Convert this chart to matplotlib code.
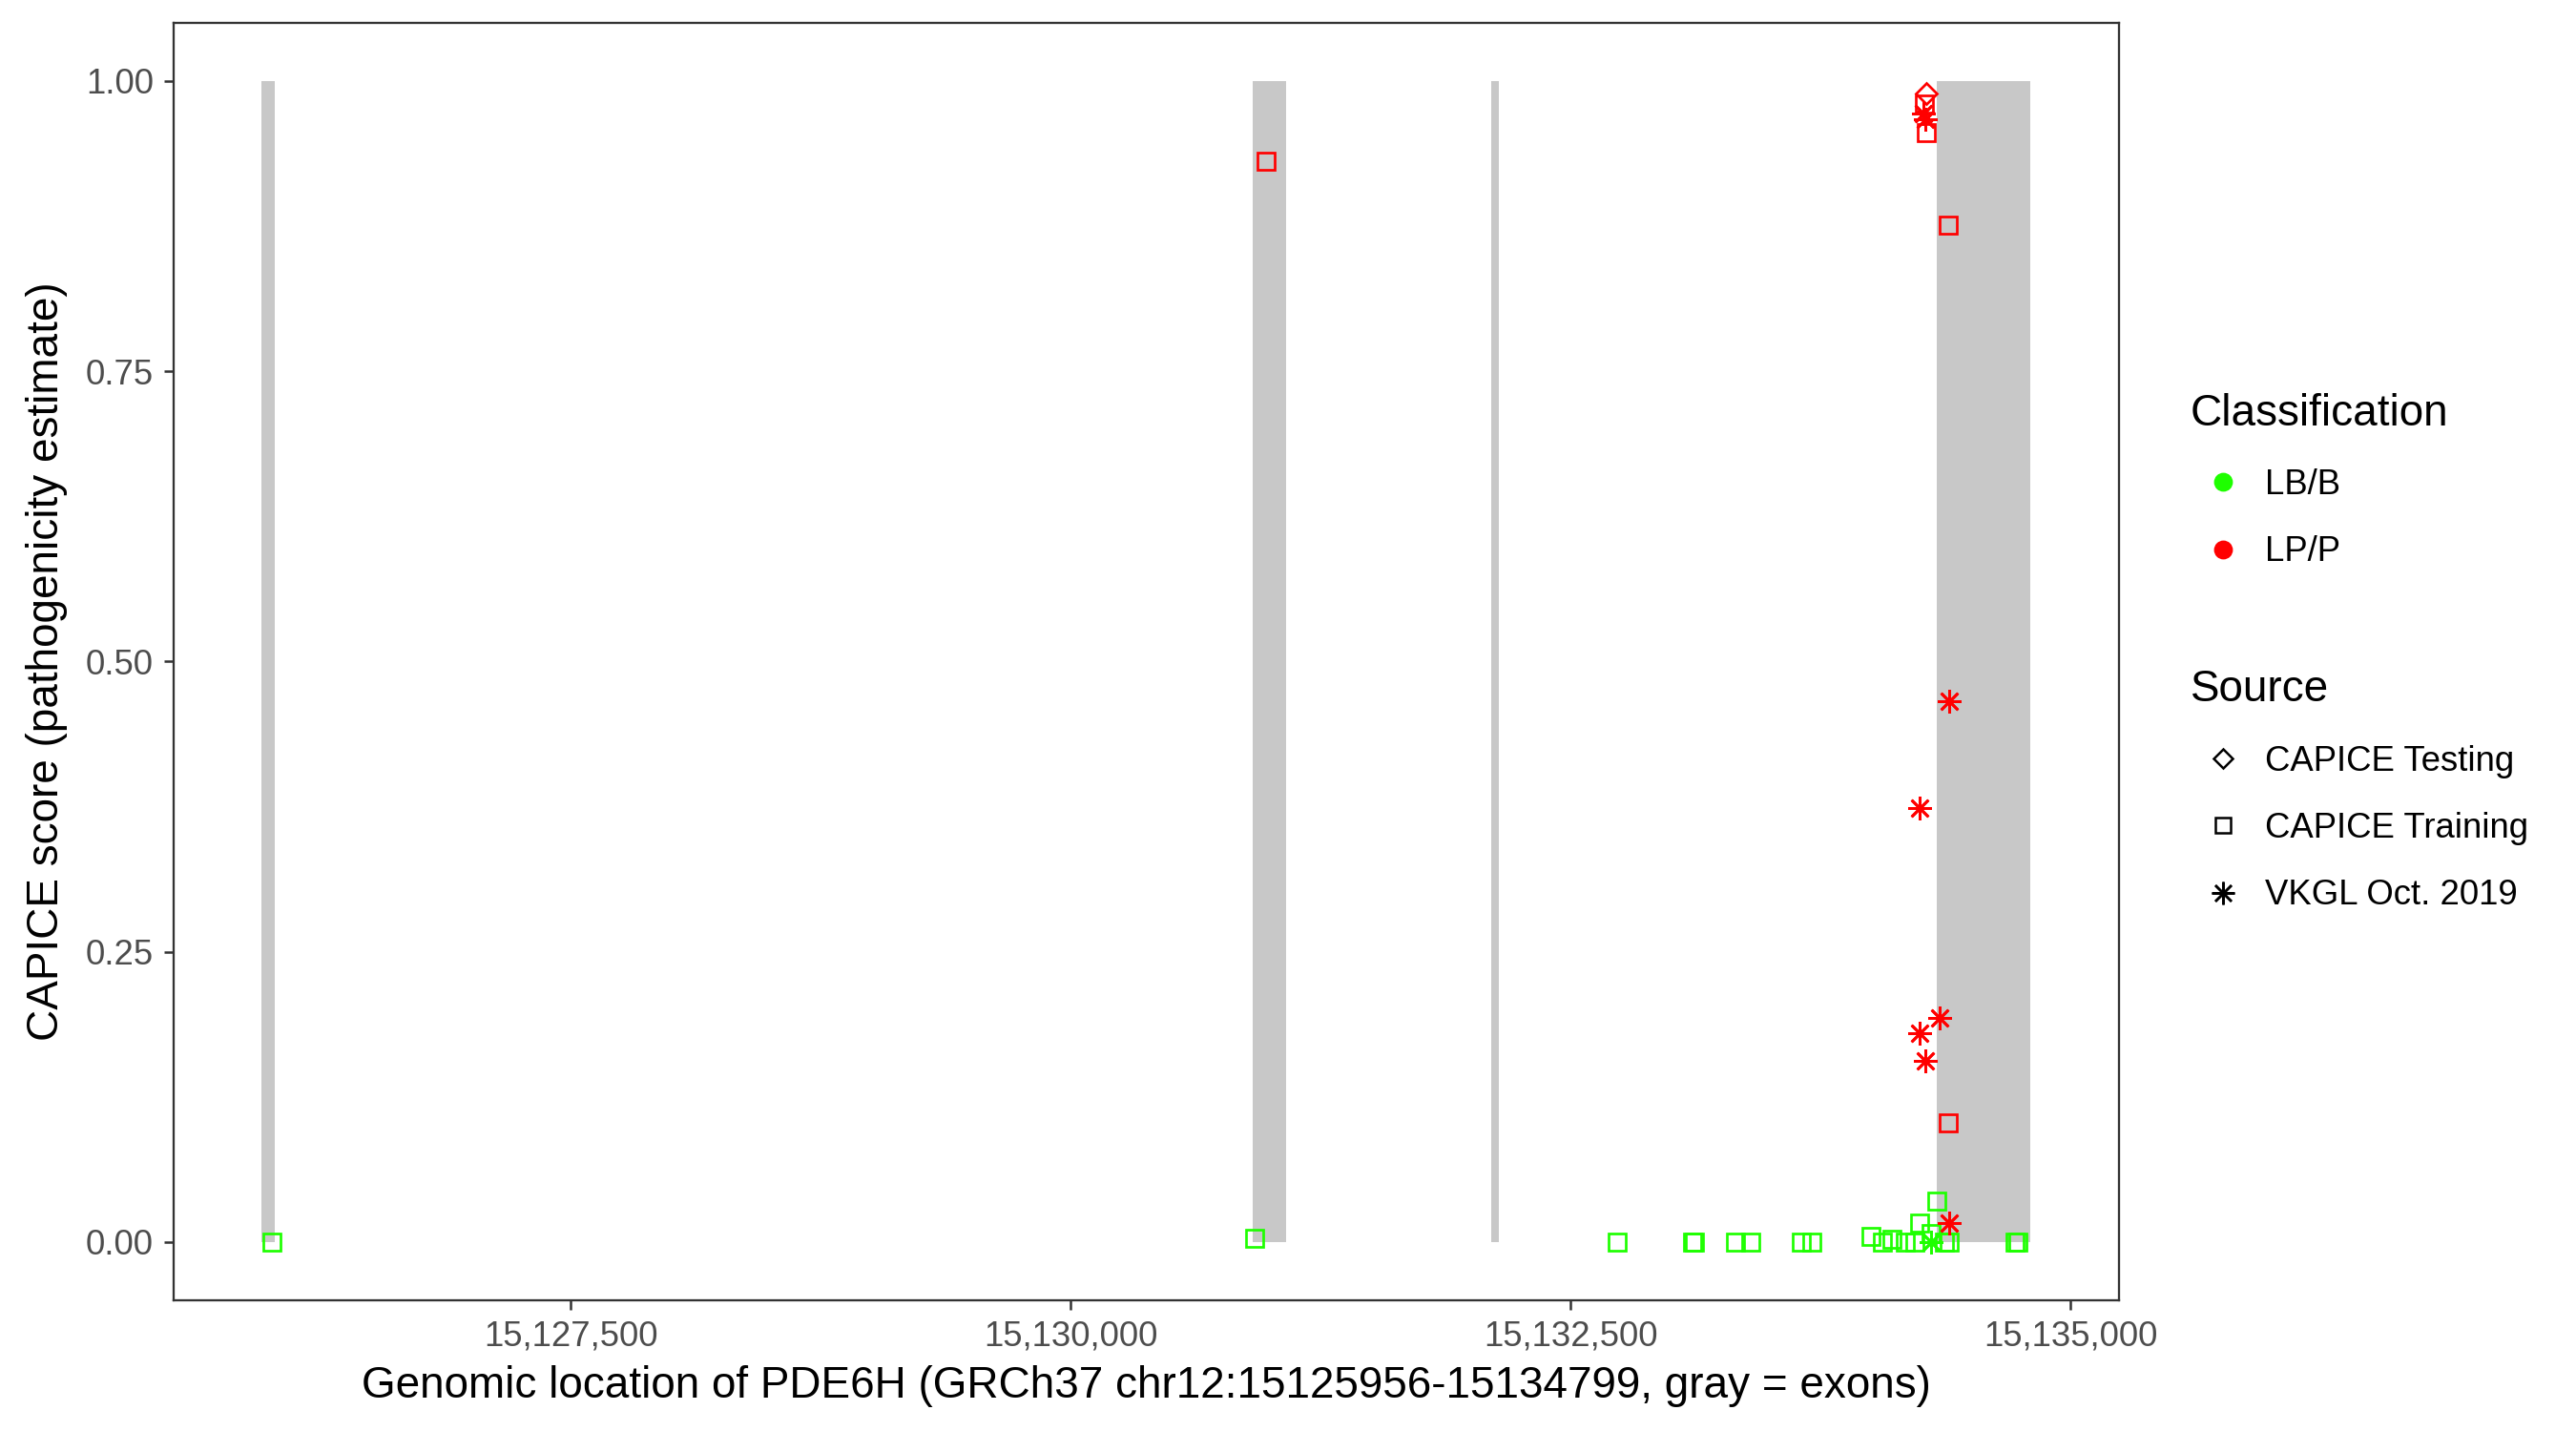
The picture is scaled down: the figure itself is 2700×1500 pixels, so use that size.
import matplotlib
matplotlib.use("Agg")
import matplotlib.pyplot as plt
from matplotlib.lines import Line2D
from matplotlib.ticker import FuncFormatter

plt.rcParams['font.family'] = ['Liberation Sans', 'DejaVu Sans']

# exons of PDE6H (start, end)
exon_start = [15125956, 15130909, 15132105, 15134333]
exon_end = [15126020, 15131080, 15132140, 15134799]

# variants: position, score, classification, source
pos = [15126006, 15130918, 15132735, 15133112, 15133120, 15133323, 15133402,
       15133656, 15133704, 15134004, 15134061, 15134109, 15134172, 15134220,
       15134244, 15134304, 15134332, 15134371, 15134395, 15134720, 15134737,
       15134304,
       15130978, 15134268, 15134281, 15134387, 15134390,
       15134281,
       15134262, 15134275, 15134392, 15134247, 15134344, 15134247, 15134276,
       15134395]
score = [0.0, 0.003, 0.0, 0.0, 0.0, 0.0, 0.0,
         0.0, 0.0, 0.0045, 0.0, 0.002, 0.0, 0.0,
         0.0165, 0.007, 0.0356, 0.0, 0.0, 0.0, 0.0,
         0.0,
         0.931, 0.980, 0.9555, 0.876, 0.1028,
         0.989,
         0.972, 0.967, 0.466, 0.374, 0.193, 0.180, 0.156,
         0.0165]
classif = ['LB/B'] * 22 + ['LP/P'] * 14
source = (['CAPICE Training'] * 21 + ['VKGL Oct. 2019']
          + ['CAPICE Training'] * 5 + ['CAPICE Testing']
          + ['VKGL Oct. 2019'] * 8)

class_names = ['LB/B', 'LP/P']
class_colors = {'LB/B': '#1EFF00', 'LP/P': '#FF0000'}
source_names = ['CAPICE Testing', 'CAPICE Training', 'VKGL Oct. 2019']
source_markers = {'CAPICE Testing': 'D', 'CAPICE Training': 's', 'VKGL Oct. 2019': (8, 2, 0)}
source_sizes = {'CAPICE Testing': 7.5, 'CAPICE Training': 8.5, 'VKGL Oct. 2019': 12}

fig = plt.figure(figsize=(18, 10), dpi=150)
ax = fig.add_axes([0.0673, 0.0915, 0.8225 - 0.0673, 0.984 - 0.0915])

# exons as gray bars
widths = [e - s for s, e in zip(exon_start, exon_end)]
ax.bar(exon_start, [1] * len(exon_start), width=widths, bottom=0, align='edge',
       color='#C8C8C8', linewidth=0, zorder=1)

for src in source_names:
    for cl in class_names:
        xs = [p for p, c, s in zip(pos, classif, source) if c == cl and s == src]
        ys = [v for v, c, s in zip(score, classif, source) if c == cl and s == src]
        if not xs:
            continue
        ax.plot(xs, ys, linestyle='none', marker=source_markers[src],
                markersize=source_sizes[src], markerfacecolor='none',
                markeredgecolor=class_colors[cl], markeredgewidth=1.3, zorder=3)

lo, hi = 15125956, 15134799
pad = (hi - lo) * 0.05
ax.set_xlim(lo - pad, hi + pad)
ax.set_ylim(-0.05, 1.05)
ax.set_xticks([15127500, 15130000, 15132500, 15135000])
ax.set_yticks([0, 0.25, 0.5, 0.75, 1.0])
ax.xaxis.set_major_formatter(FuncFormatter(lambda v, p: f"{int(v):,}"))
ax.yaxis.set_major_formatter(FuncFormatter(lambda v, p: f"{v:.2f}"))
ax.tick_params(axis='both', labelsize=17.5, labelcolor='#4D4D4D', color='#333333',
               length=5, width=1.2, pad=5)
for sp in ax.spines.values():
    sp.set_color('#333333')
    sp.set_linewidth(1.1)

ax.set_xlabel('Genomic location of PDE6H (GRCh37 chr12:15125956-15134799, gray = exons)',
              fontsize=22, labelpad=6)
ax.set_ylabel('CAPICE score (pathogenicity estimate)', fontsize=22, labelpad=9)

# legends
leg_kw = dict(loc='upper left', frameon=False, fontsize=17.5, title_fontsize=22,
              labelspacing=0.97, handlelength=1.85, handletextpad=0.3,
              alignment='left', borderaxespad=0, borderpad=0)
h1 = [Line2D([], [], linestyle='none', marker='o', markersize=8.5,
             markerfacecolor=class_colors[c], markeredgecolor=class_colors[c]) for c in class_names]
leg1 = fig.legend(h1, class_names, title='Classification',
                  bbox_to_anchor=(0.8504, 0.7255), **leg_kw)
h2 = [Line2D([], [], linestyle='none', marker=source_markers[s],
             markersize=source_sizes[s] * 0.95, markerfacecolor='none',
             markeredgecolor='black', markeredgewidth=1.2) for s in source_names]
leg2 = fig.legend(h2, source_names, title='Source',
                  bbox_to_anchor=(0.8504, 0.5325), **leg_kw)

plt.savefig('out.png', dpi=150)
